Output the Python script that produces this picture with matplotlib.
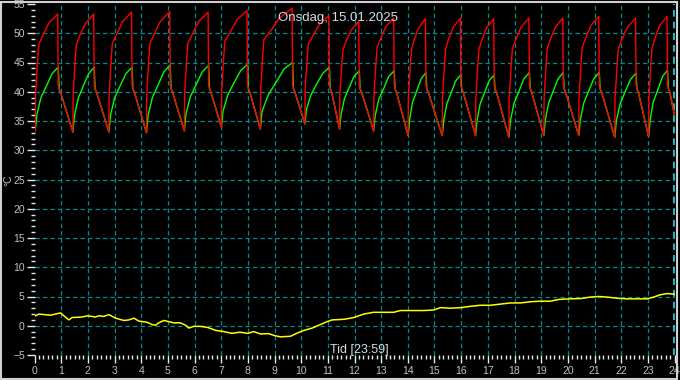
import matplotlib
matplotlib.use("Agg")
import matplotlib.pyplot as plt
from matplotlib.patches import Rectangle
from matplotlib.ticker import MultipleLocator

# readings, time in hours, temperature in degC
red_t = [0.03, 0.04, 0.12, 0.16, 0.32, 0.53, 0.87, 0.89, 0.97,
         1.44, 1.45, 1.53, 1.57, 1.71, 1.91, 2.22, 2.24, 2.32,
         2.79, 2.80, 2.88, 2.92, 3.09, 3.30, 3.64, 3.66, 3.74,
         4.20, 4.21, 4.29, 4.33, 4.50, 4.72, 5.07, 5.09, 5.17,
         5.62, 5.63, 5.71, 5.75, 5.93, 6.15, 6.51, 6.53, 6.61,
         7.01, 7.02, 7.10, 7.14, 7.35, 7.59, 7.97, 7.99, 8.07,
         8.47, 8.48, 8.56, 8.60, 8.89, 9.18, 9.66, 9.68, 9.76,
         10.14, 10.15, 10.23, 10.27, 10.46, 10.68, 11.04, 11.06, 11.14,
         11.44, 11.45, 11.53, 11.57, 11.69, 11.87, 12.16, 12.18, 12.26,
         12.72, 12.73, 12.81, 12.85, 12.98, 13.17, 13.47, 13.49, 13.57,
         14.01, 14.02, 14.10, 14.14, 14.24, 14.40, 14.66, 14.68, 14.76,
         15.29, 15.30, 15.38, 15.42, 15.53, 15.70, 15.97, 15.99, 16.07,
         16.54, 16.55, 16.63, 16.67, 16.78, 16.95, 17.22, 17.24, 17.32,
         17.79, 17.80, 17.88, 17.92, 18.05, 18.24, 18.54, 18.56, 18.64,
         19.10, 19.11, 19.19, 19.23, 19.35, 19.53, 19.81, 19.83, 19.91,
         20.41, 20.42, 20.50, 20.54, 20.67, 20.86, 21.16, 21.18, 21.26,
         21.76, 21.77, 21.85, 21.89, 22.03, 22.23, 22.54, 22.56, 22.64,
         23.03, 23.04, 23.12, 23.16, 23.27, 23.44, 23.72, 23.74, 23.82, 24.0]
red_v = [33.3, 39.7, 45.7, 48.1, 49.7, 51.7, 53.3, 41.0, 40.0,
         33.1, 39.6, 45.6, 48.0, 49.7, 51.7, 53.3, 41.0, 40.0,
         33.1, 39.7, 45.8, 48.3, 49.9, 52.0, 53.6, 41.0, 40.0,
         33.0, 39.6, 45.8, 48.3, 50.0, 52.0, 53.7, 41.0, 40.0,
         33.3, 39.8, 45.9, 48.3, 49.9, 52.0, 53.6, 41.0, 40.0,
         33.9, 40.3, 46.3, 48.7, 50.3, 52.3, 53.9, 41.0, 40.0,
         33.6, 40.2, 46.4, 48.9, 50.6, 52.6, 54.3, 41.0, 40.0,
         34.5, 40.4, 46.0, 48.2, 49.7, 51.5, 53.0, 41.0, 40.0,
         33.6, 39.5, 45.0, 47.2, 48.7, 50.5, 52.0, 41.0, 40.0,
         33.3, 39.5, 45.3, 47.6, 49.1, 51.1, 52.6, 41.0, 40.0,
         32.5, 38.9, 44.9, 47.3, 48.9, 50.9, 52.5, 41.0, 40.0,
         32.5, 38.9, 45.0, 47.4, 49.0, 51.0, 52.6, 41.0, 40.0,
         32.5, 38.9, 44.9, 47.3, 48.9, 50.9, 52.5, 41.0, 40.0,
         32.2, 38.7, 44.8, 47.3, 48.9, 51.0, 52.6, 41.0, 40.0,
         32.5, 38.9, 45.0, 47.4, 49.0, 51.0, 52.6, 41.0, 40.0,
         32.5, 39.0, 45.1, 47.6, 49.2, 51.3, 52.9, 41.0, 40.0,
         32.2, 38.7, 44.8, 47.3, 48.9, 51.0, 52.6, 41.0, 40.0,
         32.3, 38.9, 45.1, 47.5, 49.2, 51.3, 52.9, 41.0, 40.0, 36.0]

green_t = [0.03, 0.09, 0.24, 0.45, 0.66, 0.89, 0.93, 0.97,
           1.44, 1.50, 1.64, 1.83, 2.03, 2.24, 2.27, 2.32,
           2.79, 2.85, 3.00, 3.21, 3.43, 3.66, 3.69, 3.74,
           4.20, 4.26, 4.42, 4.64, 4.85, 5.09, 5.12, 5.17,
           5.62, 5.68, 5.84, 6.07, 6.29, 6.53, 6.56, 6.61,
           7.01, 7.07, 7.25, 7.49, 7.73, 7.99, 8.02, 8.07,
           8.47, 8.53, 8.77, 9.07, 9.36, 9.68, 9.71, 9.76,
           10.14, 10.20, 10.37, 10.59, 10.82, 11.06, 11.09, 11.14,
           11.44, 11.50, 11.62, 11.80, 11.98, 12.18, 12.21, 12.26,
           12.72, 12.78, 12.91, 13.10, 13.28, 13.49, 13.52, 13.57,
           14.01, 14.07, 14.17, 14.34, 14.50, 14.68, 14.71, 14.76,
           15.29, 15.35, 15.46, 15.63, 15.80, 15.99, 16.02, 16.07,
           16.54, 16.60, 16.71, 16.88, 17.05, 17.24, 17.27, 17.32,
           17.79, 17.85, 17.98, 18.17, 18.35, 18.56, 18.59, 18.64,
           19.10, 19.16, 19.28, 19.46, 19.63, 19.83, 19.86, 19.91,
           20.41, 20.47, 20.60, 20.79, 20.97, 21.18, 21.21, 21.26,
           21.76, 21.82, 21.96, 22.15, 22.35, 22.56, 22.59, 22.64,
           23.03, 23.09, 23.20, 23.38, 23.55, 23.74, 23.77, 23.82, 24.0]
green_v = [33.3, 36.1, 39.0, 41.0, 43.1, 44.2, 40.3, 40.0,
           33.1, 36.0, 38.9, 41.0, 43.1, 44.2, 40.5, 40.0,
           33.1, 36.0, 38.9, 41.0, 43.1, 44.2, 40.5, 40.0,
           33.0, 36.0, 39.0, 41.2, 43.4, 44.6, 40.5, 40.0,
           33.3, 36.2, 39.1, 41.3, 43.4, 44.5, 40.5, 40.0,
           33.9, 36.7, 39.5, 41.6, 43.6, 44.7, 40.5, 40.0,
           33.6, 36.6, 39.5, 41.7, 43.9, 45.0, 40.5, 40.0,
           34.5, 37.0, 39.5, 41.4, 43.2, 44.2, 40.5, 40.0,
           33.6, 36.2, 38.8, 40.7, 42.6, 43.6, 40.5, 40.0,
           33.3, 36.0, 38.7, 40.6, 42.6, 43.6, 40.5, 40.0,
           32.5, 35.3, 38.1, 40.2, 42.2, 43.3, 40.5, 40.0,
           32.5, 35.2, 37.9, 39.9, 41.9, 42.9, 40.3, 40.0,
           32.5, 35.2, 37.9, 39.9, 41.9, 42.9, 40.3, 40.0,
           32.2, 35.1, 38.0, 40.1, 42.2, 43.3, 40.5, 40.0,
           32.5, 35.3, 38.1, 40.2, 42.2, 43.3, 40.5, 40.0,
           32.5, 35.3, 38.1, 40.2, 42.2, 43.3, 40.5, 40.0,
           32.2, 35.1, 37.9, 40.0, 42.1, 43.2, 40.5, 40.0,
           32.3, 35.3, 38.2, 40.4, 42.6, 43.7, 40.5, 40.0, 36.0]

out_t = [0.04, 0.16, 0.6, 0.98, 1.1, 1.29, 1.41, 1.79, 1.98, 2.29,
         2.41, 2.6, 2.79, 3.04, 3.35, 3.54, 3.73, 3.91, 4.22, 4.41,
         4.54, 4.66, 4.85, 5.04, 5.22, 5.47, 5.66, 5.79, 5.97, 6.22,
         6.5, 6.8, 7.1, 7.4, 7.7, 8.0, 8.22, 8.47, 8.79, 8.97,
         9.22, 9.6, 9.85, 10.1, 10.41, 10.72, 10.97, 11.16, 11.6, 11.97,
         12.35, 12.72, 13.1, 13.47, 13.72, 14.1, 14.6, 14.97, 15.22, 15.6,
         16.0, 16.3, 16.72, 17.1, 17.47, 17.85, 18.22, 18.6, 18.97, 19.35,
         19.66, 20.1, 20.47, 20.85, 21.16, 21.47, 21.85, 22.22, 22.6, 22.97,
         23.22, 23.47, 23.72, 24.0]
out_v = [1.7, 2.0, 1.8, 2.2, 1.7, 1.0, 1.4, 1.5, 1.7, 1.5,
         1.7, 1.6, 1.9, 1.3, 0.9, 1.0, 1.3, 0.8, 0.6, 0.2,
         0.1, 0.5, 0.9, 0.7, 0.5, 0.5, 0.1, -0.4, -0.1, -0.1,
         -0.3, -0.8, -1.0, -1.3, -1.1, -1.3, -1.0, -1.4, -1.35, -1.65,
         -1.9, -1.8, -1.25, -0.8, -0.4, 0.2, 0.7, 1.0, 1.1, 1.4,
         2.0, 2.3, 2.3, 2.3, 2.6, 2.6, 2.6, 2.7, 3.1, 3.0,
         3.1, 3.3, 3.5, 3.5, 3.7, 3.9, 3.9, 4.1, 4.2, 4.2,
         4.5, 4.6, 4.65, 4.9, 5.0, 4.9, 4.7, 4.6, 4.6, 4.6,
         4.9, 5.3, 5.5, 5.4]

title = "Onsdag, 15.01.2025"
xlabel = "Tid [23:59]"
now_h = 23.98

grid_c = "#008c8c"
txt_c = "#b8c4d0"
plt.rcParams["font.family"] = ["Liberation Sans", "DejaVu Sans"]

fig = plt.figure(figsize=(6.8, 3.8), dpi=100, facecolor="black")
ax = fig.add_axes([34.5 / 680, 25 / 380, 640 / 680, 351 / 380], facecolor="black")
ax.set_xlim(0, 24)
ax.set_ylim(-5, 55)

for s in ax.spines.values():
    s.set_visible(False)

# grid, but not on the frame edges
for h in range(1, 24):
    ax.axvline(h, color=grid_c, lw=0.9, ls=(0, (3.5, 2.5)), zorder=1)
for v in range(0, 55, 5):
    ax.axhline(v, color=grid_c, lw=0.9, ls=(0, (3.5, 2.5)), zorder=1)
ax.axvline(now_h, color="#22d8e8", lw=1.2, ls=(0, (4, 3)), zorder=2)

ax.plot(green_t, green_v, color="#00ff00", lw=1.0, zorder=3)
ax.plot(red_t, red_v, color="#ff0000", lw=1.0, zorder=4)
ax.plot(out_t, out_v, color="#ffff00", lw=1.1, zorder=5)

ax.xaxis.set_major_locator(MultipleLocator(1))
ax.xaxis.set_minor_locator(MultipleLocator(1 / 6))
ax.yaxis.set_major_locator(MultipleLocator(5))
ax.yaxis.set_minor_locator(MultipleLocator(1))
ax.tick_params(axis="both", which="major", colors="#e8e8e8", labelcolor=txt_c,
               labelsize=7.5, length=6, width=1, direction="out")
ax.tick_params(axis="both", which="minor", colors="#e8e8e8", length=3, width=1,
               direction="out")
ax.tick_params(axis="x", which="major", pad=2)
ax.tick_params(axis="y", which="major", pad=1)

fig.text(338 / 680, 1 - 18 / 380, title, color="#d4dce4", fontsize=9.5,
         ha="center", va="center")
fig.text(359 / 680, 1 - 353 / 380, xlabel, color="#d4dce4", fontsize=9,
         ha="center", va="baseline")
fig.text(8 / 680, 1 - 180 / 380, "°C", color=txt_c, fontsize=7.5,
         rotation=90, ha="center", va="center")

fig.patches.append(Rectangle((0.002, 0.003), 0.994, 0.993, transform=fig.transFigure,
                             fill=False, edgecolor="#d0d0d0", lw=1.5))

fig.savefig("out.png", dpi=100, facecolor="black")
